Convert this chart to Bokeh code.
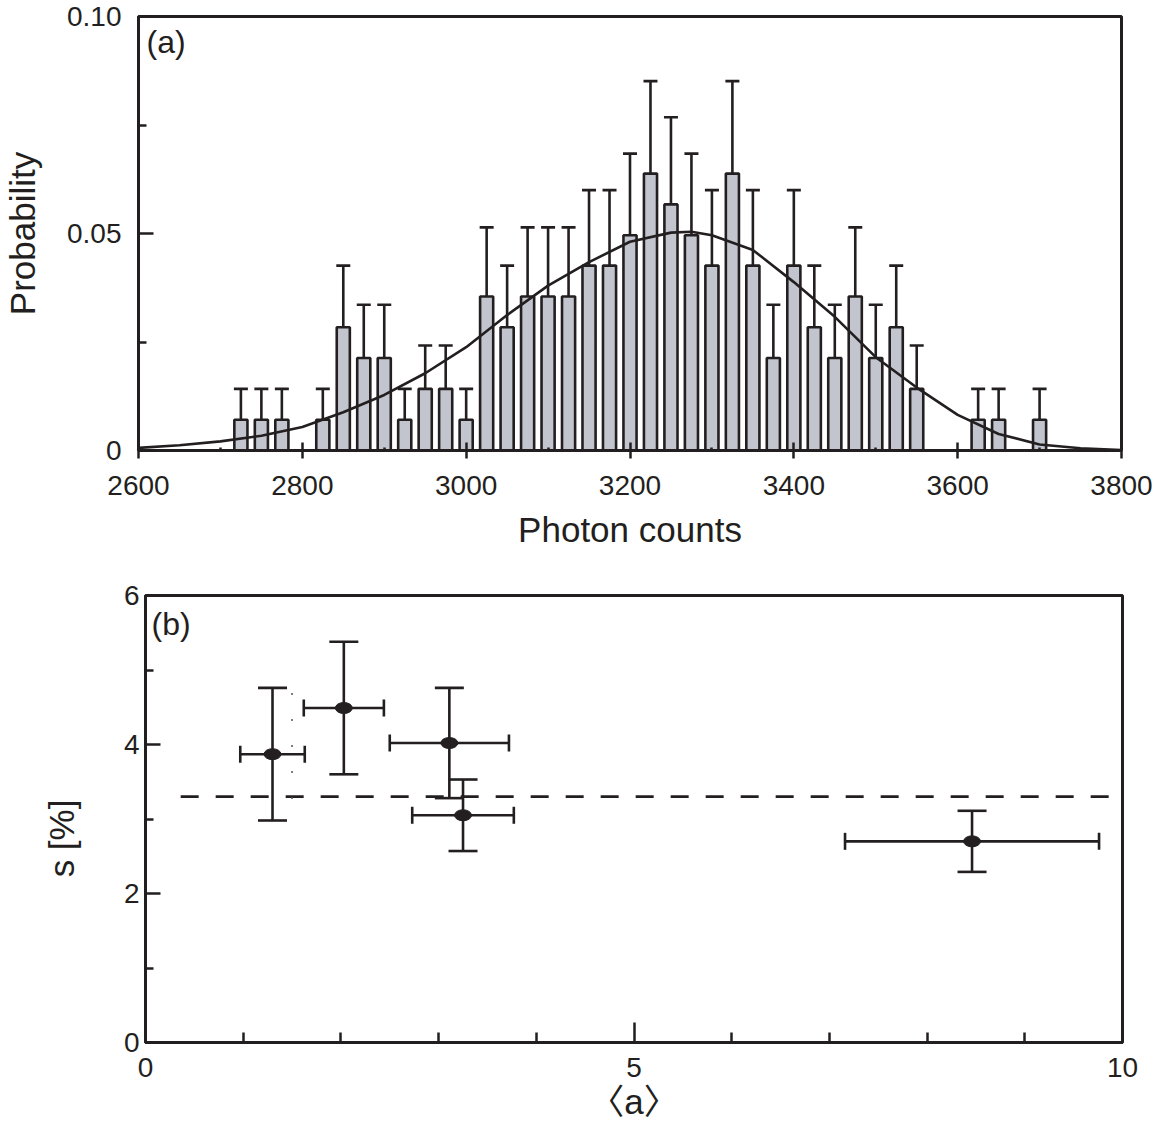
from bokeh.plotting import figure
from bokeh.models import (ColumnDataSource, Whisker, TeeHead, FixedTicker, Label,
                          Range1d, CustomJSTickFormatter)
from bokeh.embed import file_html
from bokeh.resources import INLINE

# ---------------- data: panel (a) ----------------
bin_centers = [2725, 2750, 2775, 2825, 2850, 2875, 2900, 2925, 2950, 2975,
               3000, 3025, 3050, 3075, 3100, 3125, 3150, 3175, 3200, 3225,
               3250, 3275, 3300, 3325, 3350, 3375, 3400, 3425, 3450, 3475,
               3500, 3525, 3550, 3625, 3650, 3700]
probability = [0.0071, 0.0071, 0.0071, 0.0071, 0.0284, 0.0213, 0.0213, 0.0071, 0.0142, 0.0142,
               0.0071, 0.0355, 0.0284, 0.0355, 0.0355, 0.0355, 0.0426, 0.0426, 0.0496, 0.0638,
               0.0567, 0.0496, 0.0426, 0.0638, 0.0426, 0.0213, 0.0426, 0.0284, 0.0213, 0.0355,
               0.0213, 0.0284, 0.0142, 0.0071, 0.0071, 0.0071]
prob_err = [0.0071, 0.0071, 0.0071, 0.0071, 0.0142, 0.0123, 0.0123, 0.0071, 0.0100, 0.0100,
            0.0071, 0.0159, 0.0142, 0.0159, 0.0159, 0.0159, 0.0174, 0.0174, 0.0188, 0.0213,
            0.0201, 0.0188, 0.0174, 0.0213, 0.0174, 0.0123, 0.0174, 0.0142, 0.0123, 0.0159,
            0.0123, 0.0142, 0.0100, 0.0071, 0.0071, 0.0071]
fit_x = [2600, 2650, 2700, 2750, 2800, 2850, 2900, 2950, 3000, 3050, 3100, 3150,
         3200, 3250, 3275, 3300, 3350, 3400, 3450, 3500, 3550, 3600, 3650, 3700,
         3750, 3800]
fit_y = [0.0006, 0.0012, 0.0021, 0.0034, 0.0054, 0.0088, 0.0128, 0.0178, 0.0238, 0.0312,
         0.0380, 0.0434, 0.0481, 0.0502, 0.0504, 0.0496, 0.0462, 0.0388, 0.0308, 0.0215,
         0.0145, 0.0082, 0.0038, 0.0014, 0.0005, 0.0001]
x_ticks_a = [2600, 2800, 3000, 3200, 3400, 3600, 3800]
x_minor_a = [2700, 2900, 3100, 3300, 3500, 3700]
y_ticks_a = [0, 0.05, 0.10]
y_minor_a = [0.025, 0.075]

# ---------------- data: panel (b) ----------------
a_mean = [1.30, 2.03, 3.11, 3.25, 8.46]
a_err = [0.33, 0.41, 0.61, 0.52, 1.30]
s_val = [3.87, 4.49, 4.02, 3.05, 2.70]
s_err = [0.89, 0.89, 0.74, 0.48, 0.41]
ref_level = 3.3
ref_extent = [0.36, 9.92]
dotted_x = 1.50
dotted_y = [3.27, 4.98]
x_ticks_b = [0, 5, 10]
x_minor_b = [1, 2, 3, 4, 6, 7, 8, 9]
y_ticks_b = [0, 2, 4, 6]
y_minor_b = [1, 3, 5]

INK = "#231f20"
FONT = "Liberation Sans"
BAR_FILL = "#c2c5cd"
LW = 2.6


def style(p):
    p.grid.visible = False
    p.outline_line_color = INK
    p.outline_line_width = 3
    p.background_fill_color = "white"
    p.border_fill_color = "white"
    for ax in p.axis:
        ax.axis_line_color = INK
        ax.axis_line_width = 3
        ax.major_tick_line_color = INK
        ax.major_tick_line_width = 2.5
        ax.minor_tick_line_color = INK
        ax.minor_tick_line_width = 2.5
        ax.major_label_text_font = FONT
        ax.major_label_text_font_size = "28px"
        ax.major_label_text_color = INK
        ax.axis_label_text_font = FONT + ", 'Noto Sans CJK JP'"
        ax.axis_label_text_font_size = "35px"
        ax.axis_label_text_font_style = "normal"
        ax.axis_label_text_color = INK


# ---------------- panel (a) ----------------
p1 = figure(frame_width=983, frame_height=434,
            x_range=Range1d(2600, 3800), y_range=Range1d(0, 0.10),
            output_backend="svg", toolbar_location=None,
            min_border_left=137, min_border_right=40, min_border_top=16,
            min_border_bottom=120)
style(p1)

src_a = ColumnDataSource(dict(
    x=bin_centers, top=probability,
    upper=[p + e for p, e in zip(probability, prob_err)],
    lower=[p - e for p, e in zip(probability, prob_err)]))
p1.vbar(x="x", top="top", bottom=0, width=16, source=src_a,
        fill_color=BAR_FILL, line_color=INK, line_width=LW)
wa = Whisker(base="x", upper="upper", lower="lower", source=src_a,
             dimension="height", line_color=INK, line_width=LW,
             upper_head=TeeHead(size=14, line_color=INK, line_width=LW),
             lower_head=TeeHead(size=14, line_color=INK, line_width=LW))
p1.add_layout(wa)
p1.line(fit_x, fit_y, line_color=INK, line_width=2.6)

p1.xaxis.ticker = FixedTicker(ticks=x_ticks_a, minor_ticks=x_minor_a)
p1.yaxis.ticker = FixedTicker(ticks=y_ticks_a, minor_ticks=y_minor_a)
p1.yaxis.formatter = CustomJSTickFormatter(
    code="return tick == 0 ? '0' : tick.toFixed(2);")
p1.xaxis.major_tick_in = 8
p1.xaxis.major_tick_out = 8
p1.xaxis.minor_tick_in = 3
p1.xaxis.minor_tick_out = 0
p1.xaxis.major_label_standoff = 17
p1.xaxis.axis_label = "Photon counts"
p1.xaxis.axis_label_standoff = 12
p1.yaxis.major_tick_in = 15
p1.yaxis.major_tick_out = 0
p1.yaxis.minor_tick_in = 8
p1.yaxis.minor_tick_out = 0
p1.yaxis.major_label_standoff = 17
p1.yaxis.axis_label = "Probability"
p1.yaxis.axis_label_standoff = 22
p1.add_layout(Label(x=2600, y=0.10, x_offset=8, y_offset=-7, text="(a)",
                    text_font=FONT, text_font_size="32px", text_color=INK,
                    text_baseline="top"))

# ---------------- panel (b) ----------------
p2 = figure(frame_width=977, frame_height=447,
            x_range=Range1d(0, 10), y_range=Range1d(0, 6),
            output_backend="svg", toolbar_location=None,
            min_border_left=145, min_border_right=38, min_border_top=25,
            min_border_bottom=80)
style(p2)

p2.segment(x0=ref_extent[0], y0=ref_level, x1=ref_extent[1], y1=ref_level,
           line_color=INK, line_width=2.6, line_dash="18 17")
p2.segment(x0=dotted_x, y0=dotted_y[0], x1=dotted_x, y1=dotted_y[1],
           line_color="#555555", line_width=1.5, line_dash="2 24")

src_b = ColumnDataSource(dict(
    x=a_mean, y=s_val,
    xl=[a - e for a, e in zip(a_mean, a_err)],
    xu=[a + e for a, e in zip(a_mean, a_err)],
    yl=[s - e for s, e in zip(s_val, s_err)],
    yu=[s + e for s, e in zip(s_val, s_err)]))
wx = Whisker(base="y", lower="xl", upper="xu", source=src_b, dimension="width",
             line_color=INK, line_width=LW,
             upper_head=TeeHead(size=17, line_color=INK, line_width=LW),
             lower_head=TeeHead(size=17, line_color=INK, line_width=LW))
wy = Whisker(base="x", lower="yl", upper="yu", source=src_b, dimension="height",
             line_color=INK, line_width=LW,
             upper_head=TeeHead(size=29, line_color=INK, line_width=LW),
             lower_head=TeeHead(size=29, line_color=INK, line_width=LW))
p2.add_layout(wx)
p2.add_layout(wy)
p2.ellipse(x="x", y="y", width=17, height=11, width_units="screen",
           height_units="screen", source=src_b, fill_color=INK, line_color=INK,
           level="overlay")

p2.xaxis.ticker = FixedTicker(ticks=x_ticks_b, minor_ticks=x_minor_b)
p2.yaxis.ticker = FixedTicker(ticks=y_ticks_b, minor_ticks=y_minor_b)
p2.xaxis.major_tick_in = 20
p2.xaxis.major_tick_out = 0
p2.xaxis.minor_tick_in = 10
p2.xaxis.minor_tick_out = 0
p2.xaxis.major_label_standoff = 15
p2.xaxis.axis_label = "〈a〉"
p2.xaxis.axis_label_standoff = 2
p2.yaxis.major_tick_in = 15
p2.yaxis.major_tick_out = 0
p2.yaxis.minor_tick_in = 8
p2.yaxis.minor_tick_out = 0
p2.yaxis.major_label_standoff = 6
# trailing no-break spaces push the title a little below the axis centre
p2.yaxis.axis_label = "s [%]\u00a0\u00a0\u00a0\u00a0"
p2.yaxis.axis_label_standoff = 40
p2.add_layout(Label(x=0, y=6, x_offset=6, y_offset=-10, text="(b)",
                    text_font=FONT, text_font_size="32px", text_color=INK,
                    text_baseline="top"))

open("out.html", "w").write(file_html([p1, p2], INLINE))
